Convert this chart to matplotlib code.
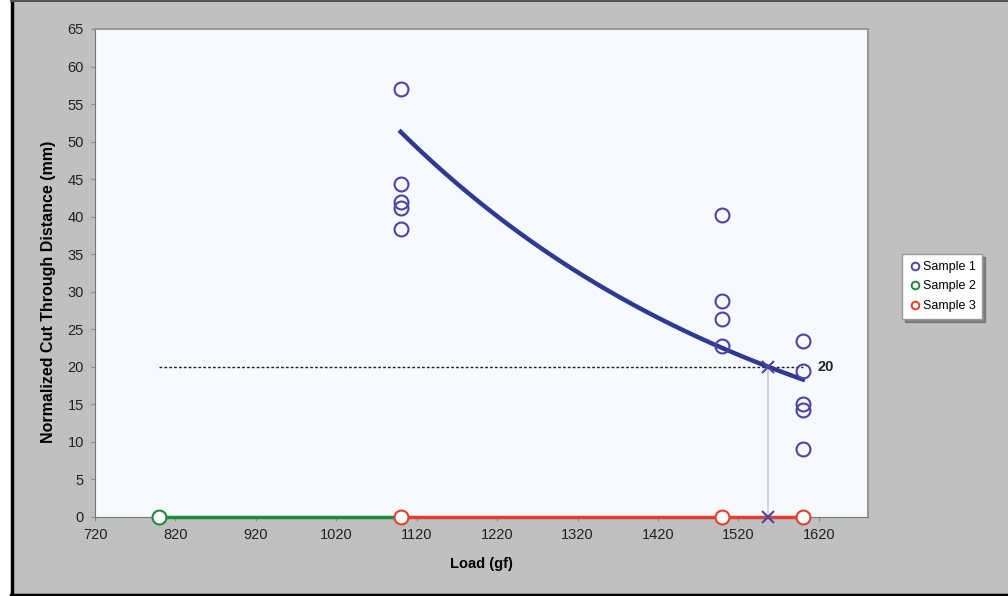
import numpy as np
import matplotlib.pyplot as plt
from matplotlib.lines import Line2D
from matplotlib.patches import Rectangle

plt.rcParams['font.family'] = ['Liberation Sans', 'DejaVu Sans']

# Sample 1 measurements
s1_load = [1100, 1100, 1100, 1100, 1100, 1500, 1500, 1500, 1500, 1600, 1600, 1600, 1600, 1600]
s1_dist = [57.0, 44.3, 42.0, 41.2, 38.3, 40.2, 28.8, 26.4, 22.8, 23.5, 19.4, 15.1, 14.3, 9.0]

# Sample 2 / Sample 3 (no cut through)
s2_load = [800, 1100]
s2_dist = [0, 0]
s3_load = [1100, 1500, 1600]
s3_dist = [0, 0, 0]

# exponential trend: y = a * exp(b * x)
trend_a = 51.3 * np.exp(0.00206 * 1100)
trend_b = -0.00206
trend_range = [1100, 1600]

threshold = 20
cross_load = np.log(threshold / trend_a) / trend_b

fig = plt.figure(figsize=(10.08, 5.96), dpi=100)
fig.patch.set_facecolor('#c0c0c0')
# white strip on the left, dark frame lines
fig.patches.append(Rectangle((0, 0), 10 / 1008, 1, transform=fig.transFigure, color='white', zorder=0))
fig.add_artist(Line2D([11.5 / 1008, 11.5 / 1008], [0, 1], color='black', lw=2.5, transform=fig.transFigure))
fig.add_artist(Line2D([11 / 1008, 1], [1.5 / 596, 1.5 / 596], color='black', lw=2.5, transform=fig.transFigure))
fig.add_artist(Line2D([11 / 1008, 1], [1 - 1 / 596, 1 - 1 / 596], color='#555555', lw=1.5, transform=fig.transFigure))

ax = fig.add_axes([95 / 1008, 1 - 517 / 596, (868 - 95) / 1008, (517 - 29) / 596])
ax.set_facecolor('#f6f9fd')

blue = '#2e3a92'
purple = '#4a45a0'
green = '#1e8a3c'
red = '#e0402c'

# trend line
tx = np.linspace(trend_range[0], trend_range[1], 100)
ax.plot(tx, trend_a * np.exp(trend_b * tx), color=blue, lw=3.2, zorder=3)

# threshold and crossing
ax.plot([800, 1600], [threshold, threshold], color='#222222', lw=1.0, ls=(0, (2, 1.5)), zorder=2)
ax.plot([cross_load, cross_load], [0, threshold], color='#c8c6e0', lw=1.2, zorder=2)
ax.plot([cross_load, cross_load], [threshold, 0], ls='none', marker='x', ms=9, mew=1.5,
        color=purple, zorder=6, clip_on=False)
ax.text(1618, threshold, '20', fontsize=10.5, fontweight='bold', va='center', ha='left', color='#222222')

ax.plot(s2_load, s2_dist, color=green, lw=2.5, marker='o', ms=10, mfc='white', mec=green, mew=1.5,
        markevery=[0], clip_on=False, zorder=4)
ax.plot(s3_load, s3_dist, color=red, lw=2.5, marker='o', ms=10, mfc='white', mec=red, mew=1.5,
        clip_on=False, zorder=5)
ax.plot(s1_load, s1_dist, ls='none', marker='o', ms=10, mfc='none', mec=purple, mew=1.5, zorder=5)

ax.set_xlim(720, 1681)
ax.set_ylim(0, 65)
ax.set_xticks(np.arange(720, 1621, 100))
ax.set_yticks(np.arange(0, 66, 5))
ax.tick_params(labelsize=10.5, length=3, color='#888888', pad=5, labelcolor='#222222')
for side in ['left', 'bottom']:
    ax.spines[side].set_color('#777777')
for side in ['top', 'right']:
    ax.spines[side].set_color('#999999')
    ax.spines[side].set_linewidth(1.5)

ax.set_xlabel('Load (gf)', fontsize=10.5, fontweight='bold', labelpad=11)
ax.set_ylabel('Normalized Cut Through Distance (mm)', fontsize=11.5, fontweight='bold', labelpad=8)
ax.yaxis.label.set_y(0.462)

handles = [
    Line2D([], [], ls='none', marker='o', ms=5.5, mfc='none', mec=purple, mew=1.4, label='Sample 1'),
    Line2D([], [], ls='none', marker='o', ms=5.5, mfc='none', mec=green, mew=1.4, label='Sample 2'),
    Line2D([], [], ls='none', marker='o', ms=5.5, mfc='none', mec=red, mew=1.4, label='Sample 3'),
]
leg = fig.legend(handles=handles, loc='upper left', bbox_to_anchor=(902 / 1008, 1 - 254 / 596),
                 fontsize=9, frameon=True, fancybox=False, shadow=True, handletextpad=0.1,
                 handlelength=1.0, borderpad=0.55, labelspacing=0.6, borderaxespad=0)
leg.get_frame().set_edgecolor('#999999')
leg.get_frame().set_facecolor('white')

fig.savefig('out.png', dpi=100, facecolor=fig.get_facecolor())
